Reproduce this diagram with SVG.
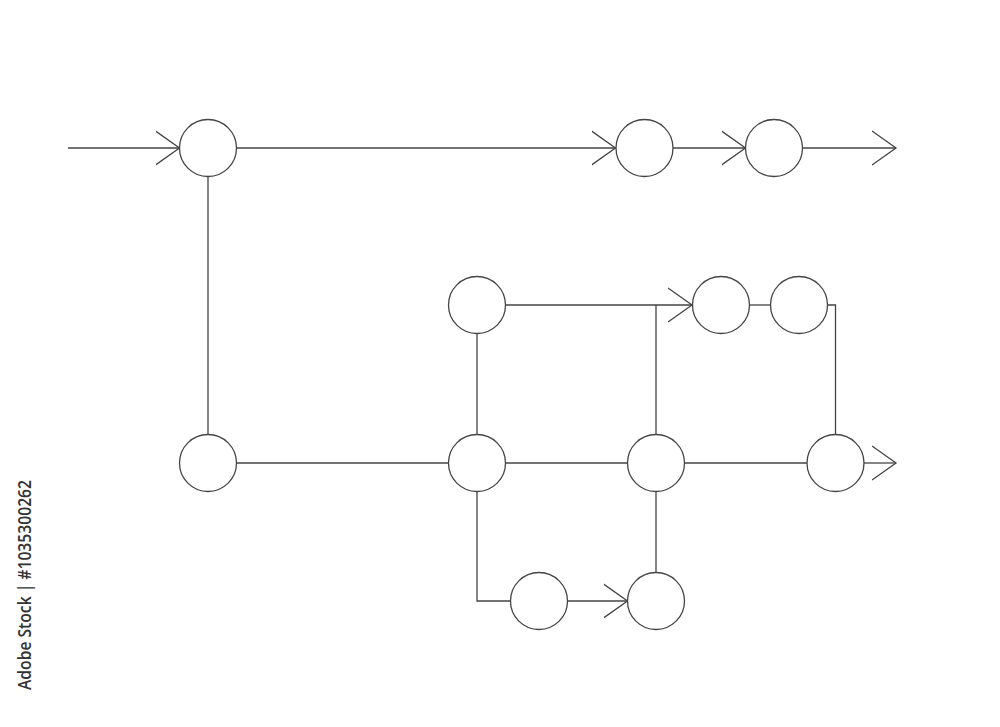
<svg xmlns="http://www.w3.org/2000/svg" width="1000" height="727" viewBox="0 0 1000 727">
<style>
.n{fill:#fff;stroke:#444;stroke-width:1.3}
.c{fill:none;stroke:#444;stroke-width:1.3}
.wm{font-family:"Open Sans","Liberation Sans",sans-serif;font-size:18px;font-weight:600;fill:#333}
</style>
<defs>
<marker id="ah" markerUnits="userSpaceOnUse" markerWidth="30" markerHeight="40" refX="24" refY="18" orient="auto" viewBox="0 0 30 40">
<path d="M0,1 L24,18 L0,35" fill="none" stroke="#444" stroke-width="1.3"/>
</marker>
</defs>
<rect width="1000" height="727" fill="#fff"/>
<g id="connectors">
<path class="c" d="M68,148 H179.5" marker-end="url(#ah)"/>
<path class="c" d="M236.5,148 H615.5" marker-end="url(#ah)"/>
<path class="c" d="M673,148 H745.5" marker-end="url(#ah)"/>
<path class="c" d="M802.5,148 H896" marker-end="url(#ah)"/>
<path class="c" d="M208,176.5 V434.5"/>
<path class="c" d="M236.5,463 H448.5"/>
<path class="c" d="M506,463 H627.5"/>
<path class="c" d="M684.5,463 H807"/>
<path class="c" d="M864,463 H896" marker-end="url(#ah)"/>
<path class="c" d="M505.5,305 H692" marker-end="url(#ah)"/>
<path class="c" d="M656,305 V434.5"/>
<path class="c" d="M749.5,305 H770.5"/>
<path class="c" d="M827.5,305 H835.5 V434.5"/>
<path class="c" d="M477,333.5 V434.5"/>
<path class="c" d="M477,491.5 V601 H510.5"/>
<path class="c" d="M567.5,601 H627.5" marker-end="url(#ah)"/>
<path class="c" d="M656,491.5 V572.5"/>
</g>
<g id="nodeA"><circle class="n" cx="208" cy="148" r="28.5"/></g>
<g id="nodeB"><circle class="n" cx="644.5" cy="148" r="28.5"/></g>
<g id="nodeC"><circle class="n" cx="774" cy="148" r="28.5"/></g>
<g id="nodeD"><circle class="n" cx="208" cy="463" r="28.5"/></g>
<g id="nodeE"><circle class="n" cx="477" cy="463" r="28.5"/></g>
<g id="nodeF"><circle class="n" cx="656" cy="463" r="28.5"/></g>
<g id="nodeG"><circle class="n" cx="835.5" cy="463" r="28.5"/></g>
<g id="nodeH"><circle class="n" cx="477" cy="305" r="28.5"/></g>
<g id="nodeI"><circle class="n" cx="721" cy="305" r="28.5"/></g>
<g id="nodeJ"><circle class="n" cx="799" cy="305" r="28.5"/></g>
<g id="nodeK"><circle class="n" cx="539" cy="601" r="28.5"/></g>
<g id="nodeL"><circle class="n" cx="656" cy="601" r="28.5"/></g>
<text class="wm" transform="translate(31,690) rotate(-90)" textLength="210" lengthAdjust="spacingAndGlyphs">Adobe Stock | #1035300262</text>
</svg>
